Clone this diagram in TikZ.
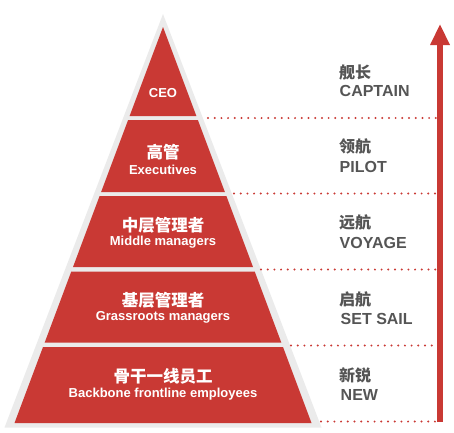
\documentclass[tikz,border=0pt]{standalone}
\usepackage{fontspec}
\setmainfont{Liberation Sans}
\newfontfamily\cjk{Noto Sans CJK SC}
\definecolor{pyred}{HTML}{C93934}
\definecolor{pygray}{HTML}{EBEBEB}
\definecolor{txtgray}{HTML}{555555}
\begin{document}
\begin{tikzpicture}[x=1pt,y=-1pt,
  layer/.style={fill=pyred,draw=none},
  cnlab/.style={text=white,font=\cjk\bfseries\fontsize{16.5}{18}\selectfont,inner sep=0pt,anchor=center},
  enlab/.style={text=white,font=\bfseries\fontsize{13}{15}\selectfont,inner sep=0pt,anchor=center},
  rcn/.style={text=txtgray,font=\cjk\bfseries\fontsize{16}{18}\selectfont,inner sep=0pt,anchor=west},
  ren/.style={text=txtgray,font=\bfseries\fontsize{16}{18}\selectfont,inner sep=0pt,anchor=west},
  dotline/.style={draw=pyred,line width=2.2pt,line cap=round,dash pattern=on 0pt off 6.7pt},
]
\useasboundingbox (0,0) rectangle (454,432);
% gray outer triangle
\fill[pygray] (163,14) -- (321.5,427.5) -- (4.5,427.5) -- cycle;
% layers
\fill[layer] (163,27) -- (196.4,116) -- (129.6,116) -- cycle;
\fill[layer] (128.1,120) -- (197.9,120) -- (224.9,192) -- (101.1,192) -- cycle;
\fill[layer] (99.6,196) -- (226.4,196) -- (253,267) -- (73,267) -- cycle;
\fill[layer] (71.3,271.5) -- (254.7,271.5) -- (281.3,342.5) -- (44.7,342.5) -- cycle;
\fill[layer] (43,347) -- (283,347) -- (311.5,423) -- (14.5,423) -- cycle;
% inner labels
\node[enlab] (ceo) at (163,93) {CEO};
\node[cnlab] (c2) at (163,152) {高管};
\node[enlab] (e2) at (163,169.5) {Executives};
\node[cnlab] (c3) at (163,225) {中层管理者};
\node[enlab] (e3) at (163,242.5) {Middle managers};
\node[cnlab] (c4) at (163,300) {基层管理者};
\node[enlab] (e4) at (163,317.5) {Grassroots managers};
\node[cnlab] (c5) at (163,376) {骨干一线员工};
\node[enlab] (e5) at (163,394.5) {Backbone frontline employees};
% arrow
\coordinate (abot) at (440,422);
\coordinate (atop) at (440,44);
\draw[pyred,line width=5.5pt] (abot) -- (atop);
\fill[pyred] (440,24.5) -- (450,45) -- (430,45) -- cycle;
% dotted lines
\coordinate (d1a) at (208,118); \coordinate (d1b) at (437,118);
\coordinate (d2a) at (234,193.5); \coordinate (d2b) at (437,193.5);
\coordinate (d3a) at (261,269.5); \coordinate (d3b) at (437,269.5);
\coordinate (d4a) at (291,345.5); \coordinate (d4b) at (437,345.5);
\coordinate (d5a) at (321,421.5); \coordinate (d5b) at (437,421.5);
\draw[dotline] (d1a) -- (d1b);
\draw[dotline] (d2a) -- (d2b);
\draw[dotline] (d3a) -- (d3b);
\draw[dotline] (d4a) -- (d4b);
\draw[dotline] (d5a) -- (d5b);
% right labels
\node[rcn] (r1c) at (339,72) {舰长};
\node[ren] (r1e) at (339.5,91) {CAPTAIN};
\node[rcn] (r2c) at (339,146) {领航};
\node[ren] (r2e) at (339.5,167) {PILOT};
\node[rcn] (r3c) at (339,222) {远航};
\node[ren] (r3e) at (339.5,243) {VOYAGE};
\node[rcn] (r4c) at (339,299) {启航};
\node[ren] (r4e) at (340.5,319) {SET SAIL};
\node[rcn] (r5c) at (339,375) {新锐};
\node[ren] (r5e) at (340.5,395) {NEW};
\end{tikzpicture}
\end{document}
